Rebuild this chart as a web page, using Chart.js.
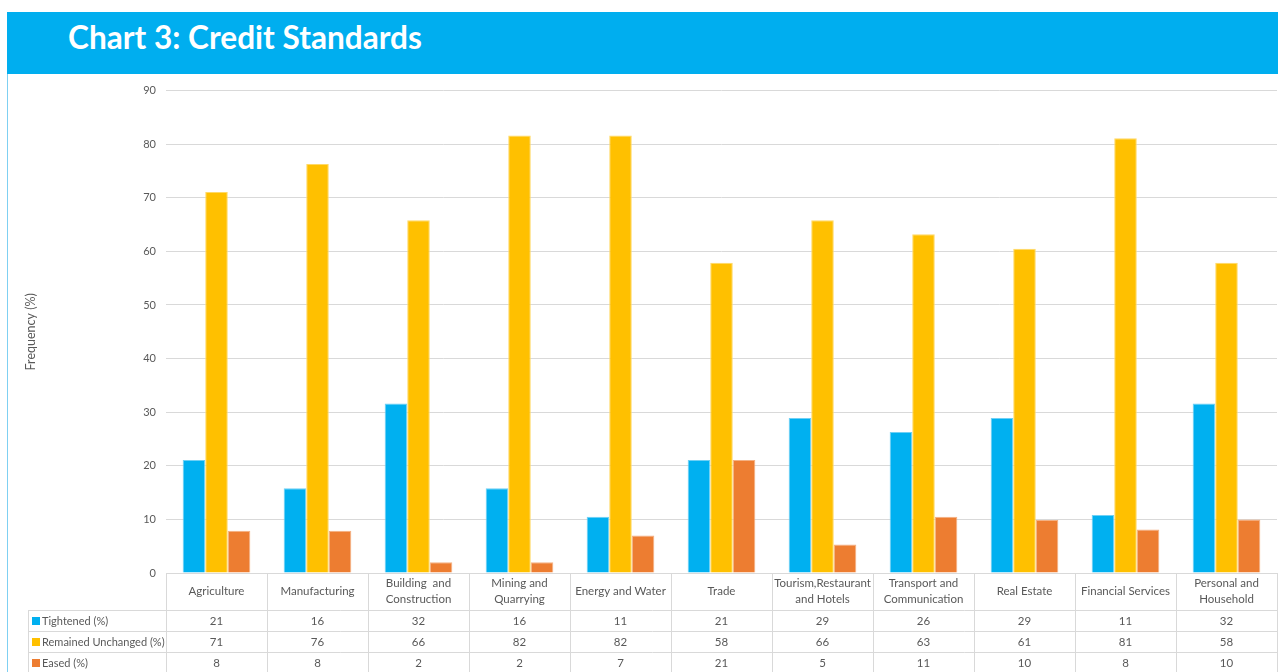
<!DOCTYPE html>
<html>
<head>
<meta charset="utf-8">
<script src="https://cdn.jsdelivr.net/npm/chart.js@4.4.1/dist/chart.umd.min.js"></script>
<style>
  body { margin: 0; width: 1278px; height: 672px; background: #fff; position: relative; overflow: hidden; font-family: Lato, sans-serif; }
  #banner { position: absolute; left: 7px; top: 12px; width: 1271px; height: 62px; background: #00aeef; }
  #banner h1 { margin: 0; position: absolute; left: 61px; top: 7px; color: #fff; font: 700 31.6px Lato, sans-serif; line-height: 36px; }
  #edge { position: absolute; left: 7px; top: 74px; width: 1px; height: 598px; background: #7fd0f2; }
  #wrap { position: absolute; left: 0; top: 74px; width: 1278px; height: 598px; }
  canvas { display: block; }
</style>
</head>
<body>
<div id="banner"><h1>Chart 3: Credit Standards</h1></div>
<div id="edge"></div>
<div id="wrap"><canvas id="chart" width="1278" height="598"></canvas></div>
<script>
const categories = [
  'Agriculture', 'Manufacturing', ['Building  and', 'Construction'], ['Mining and', 'Quarrying'],
  'Energy and Water', 'Trade', ['Tourism,Restaurant', 'and Hotels'], ['Transport and', 'Communication'],
  'Real Estate', 'Financial Services', ['Personal and', 'Household']
];

// bar heights
const tightened = [21.1, 15.8, 31.6, 15.8, 10.5, 21.1, 28.9, 26.3, 28.9, 10.8, 31.6];
const unchanged = [71.1, 76.3, 65.8, 81.6, 81.6, 57.9, 65.8, 63.2, 60.5, 81.1, 57.9];
const eased = [7.9, 7.9, 2.0, 2.0, 7.0, 21.1, 5.3, 10.5, 9.9, 8.1, 10.0];

// values printed in the data table
const tightenedTable = [21, 16, 32, 16, 11, 21, 29, 26, 29, 11, 32];
const unchangedTable = [71, 76, 66, 82, 82, 58, 66, 63, 61, 81, 58];
const easedTable = [8, 8, 2, 2, 7, 21, 5, 11, 10, 8, 10];

const seriesNames = ['Tightened (%)', 'Remained Unchanged (%)', 'Eased (%)'];
const yTicks = [0, 10, 20, 30, 40, 50, 60, 70, 80, 90];

const colors = ['#00b0f0', '#ffc000', '#ed7d31'];
const edges = ['#6fd0f5', '#ffd966', '#f4b183'];
const textColor = '#595959';
const lineColor = '#d9d9d9';

// data table under the plot, lined up with the category slots
const dataTable = {
  id: 'dataTable',
  afterDraw(chart) {
    const ctx = chart.ctx;
    const xs = chart.scales.x;
    const n = chart.data.labels.length;
    const slot = xs.width / n;
    const top = chart.chartArea.bottom;
    const headBottom = top + 37;
    const rowH = 21;
    const rows = [tightenedTable, unchangedTable, easedTable];
    const legendLeft = 28;
    const bottom = headBottom + rowH * rows.length;

    ctx.save();
    ctx.strokeStyle = lineColor;
    ctx.lineWidth = 1;
    ctx.beginPath();
    // horizontal lines
    ctx.moveTo(xs.left, top + 0.5); ctx.lineTo(xs.right, top + 0.5);
    for (let r = 0; r <= rows.length; r++) {
      const y = Math.round(headBottom + r * rowH) + 0.5;
      ctx.moveTo(legendLeft, y); ctx.lineTo(xs.right, y);
    }
    // vertical lines
    for (let k = 0; k <= n; k++) {
      const x = Math.round(xs.left + k * slot) + 0.5;
      ctx.moveTo(x, top); ctx.lineTo(x, bottom);
    }
    ctx.moveTo(legendLeft + 0.5, headBottom); ctx.lineTo(legendLeft + 0.5, bottom);
    ctx.stroke();

    ctx.fillStyle = textColor;
    ctx.font = '11.5px Lato, sans-serif';
    ctx.textAlign = 'center';
    ctx.textBaseline = 'middle';
    chart.data.labels.forEach((lab, i) => {
      const cx = xs.getPixelForValue(i);
      const lines = Array.isArray(lab) ? lab : [lab];
      const mid = (top + headBottom) / 2;
      lines.forEach((t, j) => {
        ctx.fillText(t, cx, mid + (j - (lines.length - 1) / 2) * 16);
      });
      rows.forEach((vals, r) => {
        ctx.fillText(String(vals[i]), cx, headBottom + r * rowH + rowH / 2 + 1);
      });
    });

    ctx.textAlign = 'left';
    ctx.font = '11px Lato, sans-serif';
    seriesNames.forEach((name, r) => {
      const cy = headBottom + r * rowH + rowH / 2;
      ctx.fillStyle = colors[r];
      ctx.fillRect(legendLeft + 4, Math.round(cy - 4), 8, 8);
      ctx.fillStyle = textColor;
      ctx.fillText(name, legendLeft + 14, cy + 1);
    });
    ctx.restore();
  }
};

new Chart(document.getElementById('chart'), {
  type: 'bar',
  data: {
    labels: categories,
    datasets: [tightened, unchanged, eased].map((d, i) => ({
      label: seriesNames[i],
      data: d,
      backgroundColor: colors[i],
      borderColor: edges[i],
      borderWidth: 1,
      barPercentage: 1,
      categoryPercentage: 0.67
    }))
  },
  options: {
    responsive: false,
    animation: false,
    layout: { padding: { top: 16, left: 19, right: 1, bottom: 0 } },
    plugins: { legend: { display: false }, tooltip: { enabled: false } },
    scales: {
      x: {
        grid: { display: false },
        border: { display: false },
        ticks: { display: false },
        afterFit(s) { s.height = 99; }
      },
      y: {
        min: 0,
        max: 90,
        afterBuildTicks(s) { s.ticks = yTicks.map(v => ({ value: v })); },
        ticks: { color: textColor, font: { family: 'Lato', size: 11 }, padding: 10 },
        grid: { color: lineColor, drawTicks: false },
        border: { display: false },
        title: { display: true, text: 'Frequency (%)', color: textColor, font: { family: 'Lato', size: 12.5 } },
        afterFit(s) { s.width = 147; }
      }
    }
  },
  plugins: [dataTable]
});
</script>
</body>
</html>
